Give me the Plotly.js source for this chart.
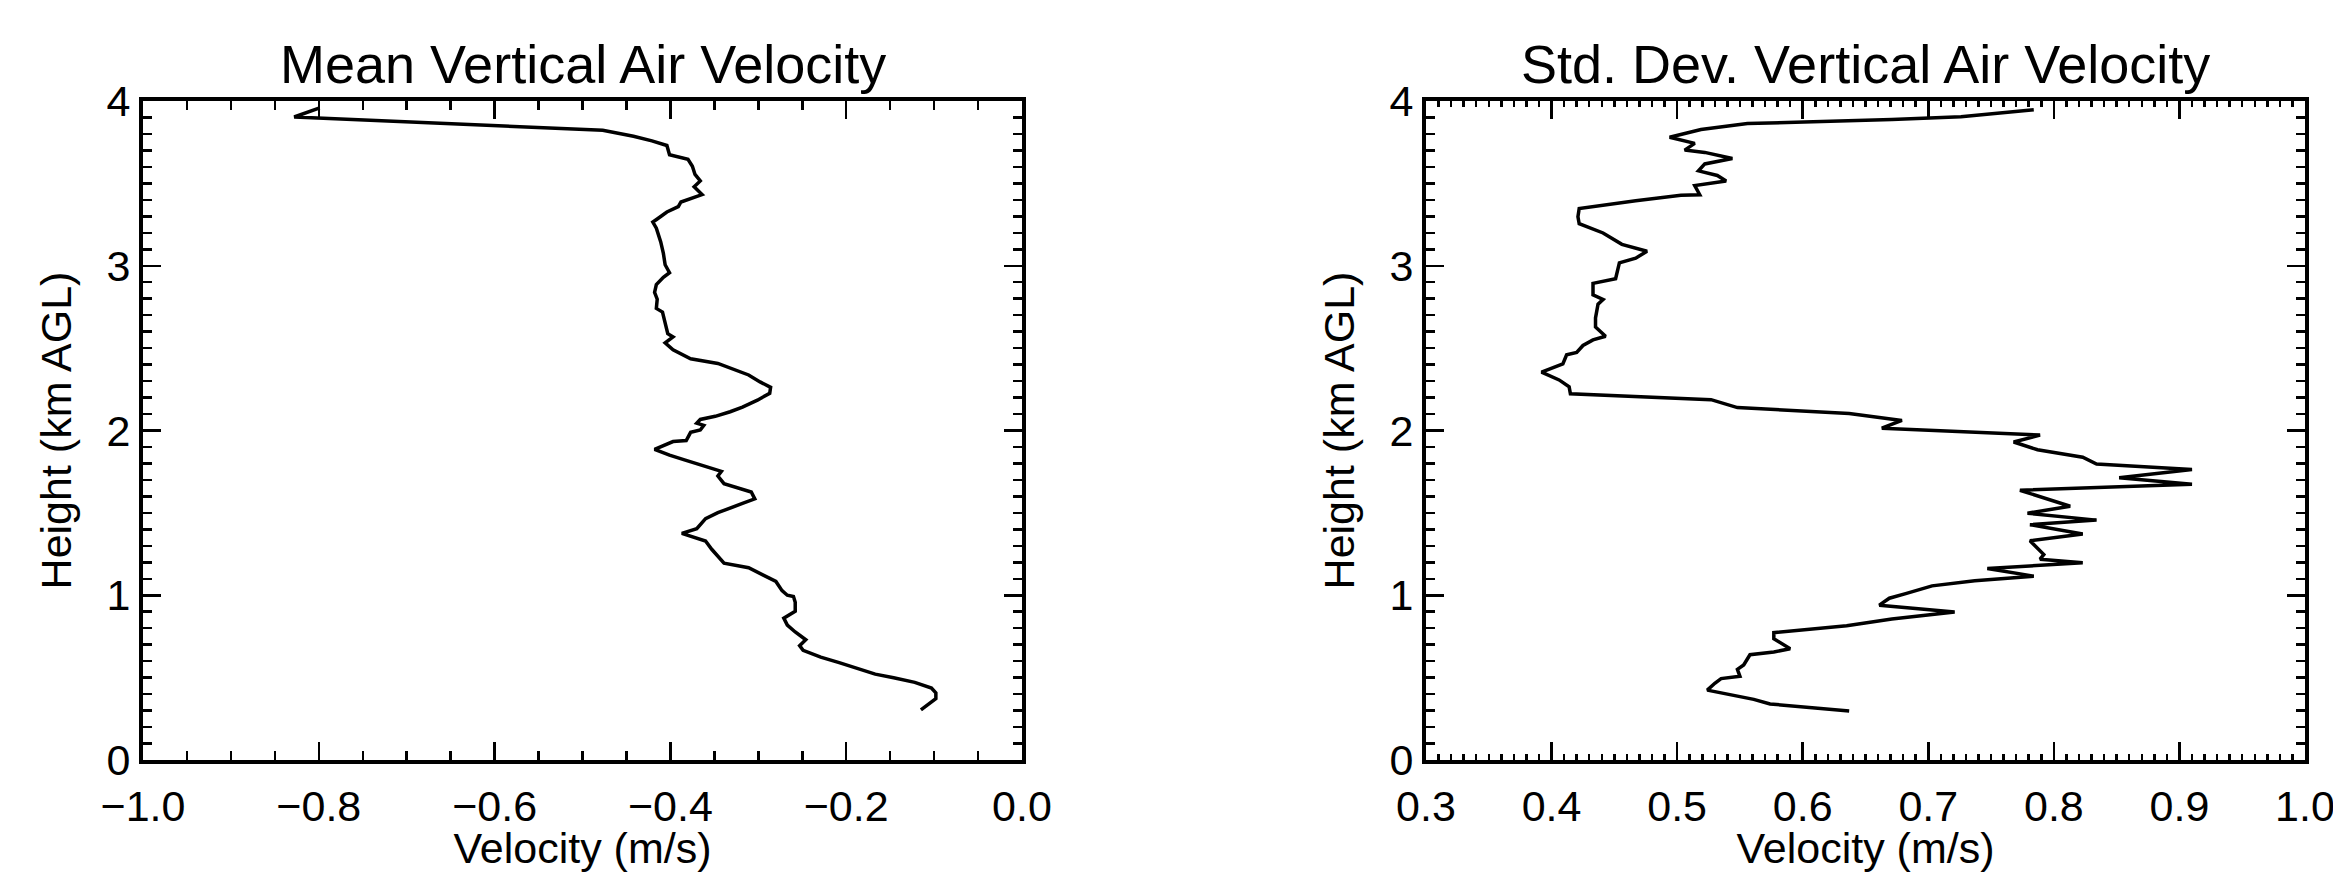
<!DOCTYPE html>
<html>
<head>
<meta charset="utf-8">
<script src="https://cdn.plot.ly/plotly-3.0.1.min.js"></script>
<style>
  html, body { margin: 0; padding: 0; background: #ffffff; }
  #chart { width: 2333px; height: 872px; }
</style>
</head>
<body>
<div id="chart"></div>
<script>
// ---- Data ----
const panelTitles = ['Mean Vertical Air Velocity', 'Std. Dev. Vertical Air Velocity'];
const xAxisTitle = 'Velocity (m/s)';
const yAxisTitle = 'Height (km AGL)';

const meanTickVals = [-1.0, -0.8, -0.6, -0.4, -0.2, 0.0];
const sdTickVals = [0.3, 0.4, 0.5, 0.6, 0.7, 0.8, 0.9, 1.0];
const heightTickVals = [0, 1, 2, 3, 4];

const meanHeight = [3.958, 3.903, 3.822, 3.786, 3.758, 3.730, 3.674, 3.646, 3.604, 3.554,
  3.515, 3.479, 3.432, 3.409, 3.387, 3.359, 3.326, 3.284, 3.265, 3.228,
  3.145, 3.075, 3.006, 2.958, 2.930, 2.886, 2.838, 2.797, 2.741, 2.719,
  2.657, 2.588, 2.568, 2.532, 2.490, 2.462, 2.435, 2.407, 2.373, 2.337,
  2.295, 2.262, 2.226, 2.184, 2.142, 2.114, 2.086, 2.067, 2.045, 2.031,
  2.003, 1.989, 1.939, 1.933, 1.886, 1.850, 1.822, 1.794, 1.766, 1.752,
  1.724, 1.677, 1.627, 1.585, 1.557, 1.529, 1.501, 1.465, 1.432, 1.404,
  1.376, 1.357, 1.329, 1.279, 1.237, 1.195, 1.167, 1.139, 1.111, 1.084,
  1.028, 1.000, 0.992, 0.958, 0.903, 0.889, 0.861, 0.819, 0.777, 0.730,
  0.694, 0.666, 0.624, 0.591, 0.554, 0.521, 0.499, 0.471, 0.437, 0.407,
  0.373, 0.345, 0.304];
const meanVelocity = [-0.799, -0.828, -0.477, -0.442, -0.421, -0.404, -0.401, -0.380, -0.375, -0.372,
  -0.366, -0.373, -0.364, -0.377, -0.388, -0.391, -0.404, -0.415, -0.420, -0.416,
  -0.411, -0.408, -0.406, -0.401, -0.408, -0.416, -0.418, -0.415, -0.416, -0.409,
  -0.406, -0.403, -0.397, -0.406, -0.397, -0.387, -0.377, -0.346, -0.329, -0.311,
  -0.298, -0.286, -0.287, -0.301, -0.318, -0.332, -0.349, -0.366, -0.370, -0.362,
  -0.366, -0.377, -0.382, -0.397, -0.418, -0.401, -0.384, -0.366, -0.349, -0.342,
  -0.346, -0.339, -0.308, -0.304, -0.318, -0.332, -0.346, -0.360, -0.366, -0.370,
  -0.387, -0.377, -0.360, -0.353, -0.346, -0.339, -0.311, -0.301, -0.291, -0.280,
  -0.273, -0.267, -0.260, -0.258, -0.258, -0.263, -0.271, -0.267, -0.258, -0.246,
  -0.253, -0.249, -0.229, -0.208, -0.187, -0.167, -0.146, -0.122, -0.103, -0.098,
  -0.098, -0.105, -0.115];

const sdHeight = [3.947, 3.905, 3.888, 3.863, 3.827, 3.799, 3.780, 3.743, 3.702, 3.688,
  3.651, 3.618, 3.576, 3.548, 3.515, 3.487, 3.431, 3.428, 3.395, 3.347,
  3.297, 3.255, 3.199, 3.130, 3.088, 3.046, 3.018, 2.921, 2.893, 2.823,
  2.795, 2.767, 2.683, 2.628, 2.572, 2.550, 2.516, 2.474, 2.460, 2.404,
  2.354, 2.307, 2.265, 2.223, 2.187, 2.139, 2.103, 2.061, 2.014, 1.972,
  1.930, 1.883, 1.838, 1.796, 1.763, 1.713, 1.674, 1.637, 1.540, 1.498,
  1.456, 1.428, 1.372, 1.331, 1.247, 1.219, 1.197, 1.163, 1.116, 1.088,
  1.057, 1.010, 0.982, 0.940, 0.898, 0.856, 0.828, 0.815, 0.773, 0.736,
  0.675, 0.656, 0.639, 0.577, 0.550, 0.508, 0.494, 0.466, 0.424, 0.368,
  0.340, 0.298];
const sdVelocity = [0.784, 0.726, 0.671, 0.556, 0.519, 0.503, 0.494, 0.514, 0.506, 0.522,
  0.544, 0.522, 0.517, 0.532, 0.539, 0.514, 0.518, 0.503, 0.467, 0.422,
  0.421, 0.422, 0.441, 0.456, 0.476, 0.467, 0.454, 0.451, 0.433, 0.433,
  0.441, 0.437, 0.435, 0.435, 0.443, 0.433, 0.425, 0.420, 0.412, 0.409,
  0.392, 0.406, 0.414, 0.415, 0.527, 0.548, 0.637, 0.679, 0.663, 0.789,
  0.768, 0.787, 0.823, 0.834, 0.910, 0.852, 0.910, 0.773, 0.813, 0.779,
  0.834, 0.781, 0.823, 0.781, 0.792, 0.789, 0.823, 0.747, 0.784, 0.737,
  0.703, 0.682, 0.669, 0.661, 0.721, 0.671, 0.645, 0.635, 0.577, 0.577,
  0.590, 0.577, 0.558, 0.553, 0.548, 0.550, 0.535, 0.530, 0.524, 0.561,
  0.574, 0.637];

// ---- Styling ----
const FONT = 'Liberation Sans, Arial, sans-serif';
const BLACK = '#000000';
const LABEL_SIZE = 43;
const TITLE_SIZE = 54;

function xAxis(domain, range, tickvals, minorDtick, minorLen, anchor) {
  return {
    domain: domain, anchor: anchor, range: range,
    tickmode: 'array', tickvals: tickvals, ticktext: tickvals.map(v => v.toFixed(1).replace('-', '\u2212')),
    ticks: 'inside', ticklen: 18, tickwidth: 2.5, tickcolor: BLACK,
    ticklabelstandoff: 5, ticklabeloverflow: 'allow',
    showline: true, linewidth: 4, linecolor: BLACK, mirror: 'allticks',
    showgrid: false, zeroline: false, fixedrange: true,
    tickfont: { family: FONT, size: LABEL_SIZE, color: BLACK },
    minor: { tickmode: 'linear', tick0: range[0], dtick: minorDtick, ticks: 'inside', ticklen: minorLen,
             tickwidth: 2.5, tickcolor: BLACK, showgrid: false },
    title: { text: xAxisTitle, standoff: 14, font: { family: FONT, size: LABEL_SIZE, color: BLACK } }
  };
}
function yAxis(anchor) {
  return {
    anchor: anchor, domain: [0, 1], range: [0, 4],
    tickmode: 'array', tickvals: heightTickVals, ticktext: heightTickVals.map(String),
    ticks: 'inside', ticklen: 18, tickwidth: 2.5, tickcolor: BLACK,
    ticklabeloverflow: 'allow',
    showline: true, linewidth: 4, linecolor: BLACK, mirror: 'allticks',
    showgrid: false, zeroline: false, fixedrange: true,
    tickfont: { family: FONT, size: LABEL_SIZE, color: BLACK },
    minor: { tickmode: 'linear', tick0: 0, dtick: 0.1, ticks: 'inside', ticklen: 9, tickwidth: 2.5,
             tickcolor: BLACK, showgrid: false },
    title: { text: yAxisTitle, standoff: 22, font: { family: FONT, size: LABEL_SIZE, color: BLACK } }
  };
}

const traces = [
  { x: meanVelocity, y: meanHeight, xaxis: 'x', yaxis: 'y', type: 'scatter', mode: 'lines',
    line: { color: BLACK, width: 3.5 }, hoverinfo: 'skip' },
  { x: sdVelocity, y: sdHeight, xaxis: 'x2', yaxis: 'y2', type: 'scatter', mode: 'lines',
    line: { color: BLACK, width: 3.5 }, hoverinfo: 'skip' }
];

const leftDomain = [0, 0.40657];
const rightDomain = [0.59343, 1];

const layout = {
  width: 2333, height: 872,
  margin: { l: 143, r: 28, t: 101, b: 112, pad: 0 },
  paper_bgcolor: '#ffffff', plot_bgcolor: '#ffffff',
  showlegend: false,
  font: { family: FONT, size: LABEL_SIZE, color: BLACK },
  xaxis: xAxis(leftDomain, [-1, 0], meanTickVals, 0.05, 9, 'y'),
  yaxis: yAxis('x'),
  xaxis2: xAxis(rightDomain, [0.3, 1.0], sdTickVals, 0.01, 6, 'y2'),
  yaxis2: yAxis('x2'),
  annotations: [
    { text: panelTitles[0], xref: 'paper', yref: 'paper', x: (leftDomain[0] + leftDomain[1]) / 2, y: 1.056,
      xanchor: 'center', yanchor: 'middle', showarrow: false, font: { family: FONT, size: TITLE_SIZE, color: BLACK } },
    { text: panelTitles[1], xref: 'paper', yref: 'paper', x: (rightDomain[0] + rightDomain[1]) / 2, y: 1.056,
      xanchor: 'center', yanchor: 'middle', showarrow: false, font: { family: FONT, size: TITLE_SIZE, color: BLACK } }
  ]
};

Plotly.newPlot('chart', traces, layout, { staticPlot: true, displayModeBar: false });
</script>
</body>
</html>
